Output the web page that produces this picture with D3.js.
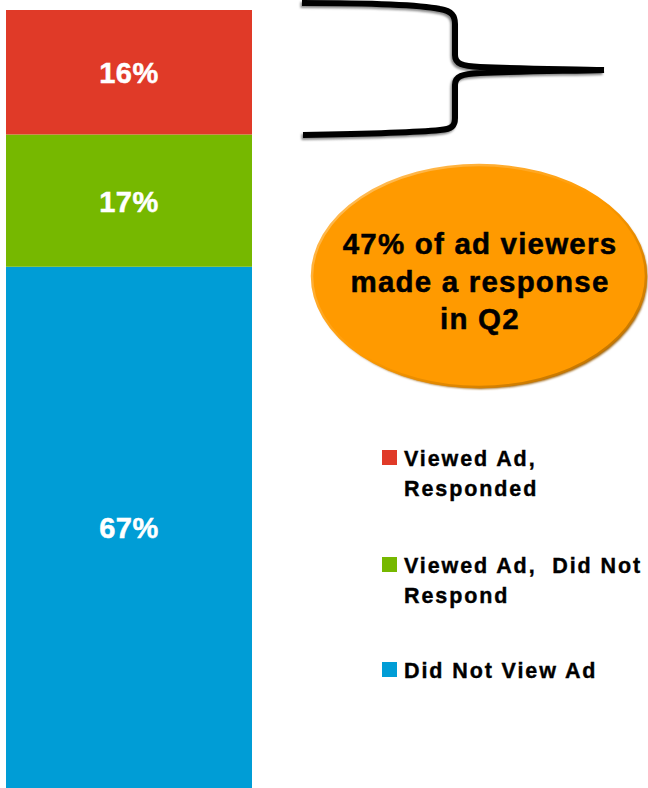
<!DOCTYPE html>
<html>
<head>
<meta charset="utf-8">
<script src="https://cdn.jsdelivr.net/npm/d3@7/dist/d3.min.js"></script>
<style>
  html, body { margin: 0; padding: 0; background: #fff; }
  svg { display: block; font-family: "Liberation Sans", Arial, sans-serif; }
</style>
</head>
<body>
<div id="chart"></div>
<script>
// Ad exposure and response shares (percent), drawn top to bottom
const categories = ["Viewed Ad, Responded", "Viewed Ad,  Did Not Respond", "Did Not View Ad"];
const shares = [16, 17, 67];
const colors = ["#E03A28", "#76B800", "#009DD6"];
const legendLines = [["Viewed Ad,", "Responded"], ["Viewed Ad,  Did Not", "Respond"], ["Did Not View Ad"]];
const calloutLines = ["47% of ad viewers", "made a response", "in Q2"];

const W = 648, H = 788;
const svg = d3.select("#chart").append("svg").attr("width", W).attr("height", H);
const defs = svg.append("defs");

// Stack the single bar with the first category on top
const row = {};
categories.forEach((c, i) => row[c] = shares[i]);
const stack = d3.stack().keys(categories.slice().reverse());
const series = stack([row]);

const x = d3.scaleBand().domain(["Q2"]).range([6, 252]).padding(0);
const y = d3.scaleLinear().domain([0, 100]).range([788, 10]);
const color = d3.scaleOrdinal().domain(categories).range(colors);

const bars = svg.append("g");
series.forEach(s => {
  const d = s[0];
  bars.append("rect")
    .attr("x", x("Q2"))
    .attr("width", x.bandwidth())
    .attr("y", y(d[1]))
    .attr("height", y(d[0]) - y(d[1]))
    .attr("fill", color(s.key));
  bars.append("text")
    .attr("x", x("Q2") + x.bandwidth() / 2)
    .attr("y", (y(d[0]) + y(d[1])) / 2 + 11)
    .attr("text-anchor", "middle")
    .attr("fill", "#fff")
    .attr("stroke", "#fff")
    .attr("stroke-width", 0.5)
    .attr("font-weight", "bold")
    .attr("font-size", 29)
    .attr("letter-spacing", 0.5)
    .text(shares[categories.indexOf(s.key)] + "%");
});

// Brace grouping the responders segment
const blur = defs.append("filter").attr("id", "soft").attr("x", "-10%").attr("y", "-10%").attr("width", "120%").attr("height", "120%");
blur.append("feGaussianBlur").attr("stdDeviation", 1.2);

function bracePath() {
  const p = d3.path();
  p.moveTo(302, 3);
  p.bezierCurveTo(360, 3, 420, 5, 440, 9);
  p.bezierCurveTo(452, 11, 455, 16, 455, 24);
  p.lineTo(455, 55);
  p.bezierCurveTo(455, 64, 462, 66, 480, 67);
  p.bezierCurveTo(530, 69, 570, 69, 604, 70);
  p.moveTo(604, 70);
  p.bezierCurveTo(570, 71, 530, 71, 480, 73);
  p.bezierCurveTo(462, 74, 455, 76, 455, 85);
  p.lineTo(455, 118);
  p.bezierCurveTo(455, 126, 452, 129, 440, 130);
  p.bezierCurveTo(420, 132, 360, 134, 303, 135);
  return p.toString();
}
const brace = svg.append("g");
brace.append("path")
  .attr("d", bracePath())
  .attr("transform", "translate(-1.5,2)")
  .attr("fill", "none")
  .attr("stroke", "#8a8a8a")
  .attr("stroke-width", 6)
  .attr("filter", "url(#soft)");
brace.append("path")
  .attr("d", bracePath())
  .attr("fill", "none")
  .attr("stroke", "#000")
  .attr("stroke-width", 6)
  .attr("stroke-linejoin", "round");

// Callout ellipse
const cx = 479, cy = 276, rx = 167, ry = 111;
const edge = defs.append("linearGradient").attr("id", "edge")
  .attr("x1", "0").attr("y1", "0").attr("x2", "1").attr("y2", "1");
edge.append("stop").attr("offset", "0").attr("stop-color", "#FFC670");
edge.append("stop").attr("offset", "0.5").attr("stop-color", "#FF9A00");
edge.append("stop").attr("offset", "1").attr("stop-color", "#B06A00");

svg.append("ellipse")
  .attr("cx", cx + 1.5).attr("cy", cy + 2)
  .attr("rx", rx).attr("ry", ry)
  .attr("fill", "#9A5C00")
  .attr("filter", "url(#soft)");
svg.append("ellipse")
  .attr("cx", cx).attr("cy", cy)
  .attr("rx", rx).attr("ry", ry)
  .attr("fill", "#FF9A00")
  .attr("stroke", "url(#edge)")
  .attr("stroke-width", 2.5);

svg.append("g").selectAll("text")
  .data(calloutLines)
  .join("text")
  .attr("x", 480)
  .attr("y", (d, i) => 254 + i * 37.5)
  .attr("text-anchor", "middle")
  .attr("font-weight", "bold")
  .attr("font-size", 29.5)
  .attr("letter-spacing", 1.2)
  .attr("fill", "#000")
  .attr("stroke", "#000")
  .attr("stroke-width", 0.5)
  .text(d => d);

// Legend
const legendTops = [450, 557, 662];
const legend = svg.append("g");
categories.forEach((c, i) => {
  const g = legend.append("g").attr("transform", `translate(382,${legendTops[i]})`);
  g.append("rect").attr("width", 15).attr("height", 15).attr("fill", color(c));
  g.selectAll("text")
    .data(legendLines[i])
    .join("text")
    .attr("x", 22)
    .attr("y", (d, j) => 16 + j * 30)
    .attr("font-weight", "bold")
    .attr("font-size", 21.5)
    .attr("letter-spacing", 1.9)
    .attr("fill", "#000")
    .attr("stroke", "#000")
    .attr("stroke-width", 0.4)
    .style("white-space", "pre")
    .text(d => d);
});
</script>
</body>
</html>
